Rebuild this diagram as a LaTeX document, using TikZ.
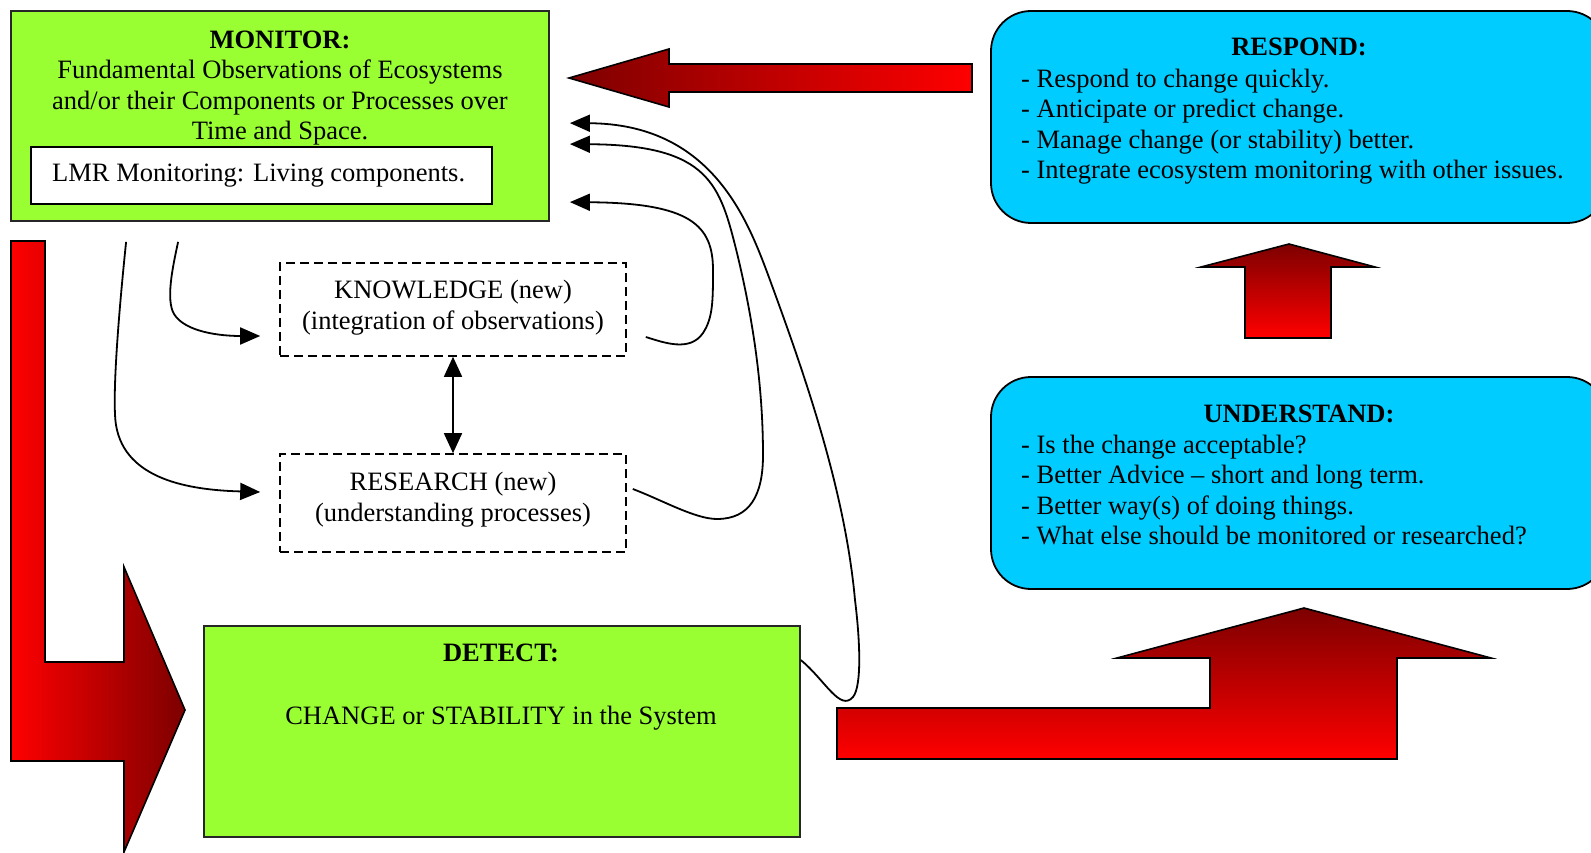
\documentclass[tikz,border=0pt]{standalone}
\usepackage{fontspec}
\setmainfont{Liberation Serif}
\usetikzlibrary{arrows.meta,calc,shadings}
\definecolor{boxgreen}{RGB}{153,255,51}
\definecolor{boxcyan}{RGB}{0,204,255}
\definecolor{arrowred}{RGB}{255,0,0}
\definecolor{arrowdark}{RGB}{125,0,0}
\tikzset{
  body/.style={font=\fontsize{26.5}{30.5}\selectfont},
  pairtext/.style={font=\fontsize{26.5}{31.5}\selectfont},
  greenbox/.style={draw=black!85, line width=1.8pt, fill=boxgreen, rectangle, inner sep=0pt},
  cyanbox/.style={draw=black, line width=1.8pt, fill=boxcyan, rounded corners=40pt, inner sep=0pt},
  dashbox/.style={draw=black, dash pattern=on 9pt off 5pt, line width=1.6pt, inner sep=0pt},
  plain/.style={inner sep=0pt},
  link/.style={line width=1.8pt, -{Triangle[length=20pt,width=17pt]}},
  twoway/.style={line width=1.6pt, {Triangle[length=20pt,width=18pt]}-{Triangle[length=20pt,width=18pt]}},
  bigarrow/.style={draw=black, line width=1.6pt, line join=miter},
}
\begin{document}
\begin{tikzpicture}[x=1pt, y=-1pt, body]
\useasboundingbox (0,0) rectangle (1591,853);

% broad shaded arrows
\draw[bigarrow, left color=arrowdark, right color=arrowred]
  (972,64) -- (669,64) -- (669,49) -- (569,78) -- (669,107) -- (669,92) -- (972,92) -- cycle;
\draw[bigarrow, left color=arrowred, right color=arrowdark]
  (11,241) -- (45,241) -- (45,662) -- (124,662) -- (124,567) -- (185,710)
  -- (124,852) -- (124,761) -- (11,761) -- cycle;
\draw[bigarrow, top color=arrowdark, bottom color=arrowred]
  (837,759) -- (837,708) -- (1210,708) -- (1210,658) -- (1117,658) -- (1304,608)
  -- (1491,658) -- (1397,658) -- (1397,759) -- cycle;
\draw[bigarrow, top color=arrowdark, bottom color=arrowred]
  (1245,338) -- (1245,267) -- (1201,267) -- (1289,244) -- (1375,267) -- (1331,267)
  -- (1331,338) -- cycle;

% MONITOR
\node[greenbox, minimum width=538pt, minimum height=210pt] (monitor) at (280,116) {};
\node[plain, anchor=north, align=center] (monitorText) at (280,26.65)
  {\strut\textbf{MONITOR:}\\Fundamental Observations of Ecosystems\\and/or their Components or Processes over\\Time and Space.};
\node[draw=black, line width=1.8pt, fill=white, minimum width=461pt, minimum height=57pt,
      inner sep=0pt] (lmr) at (261.5,175.5) {};
\node[plain, anchor=west] (lmrText) at (52,175.5) {LMR Monitoring: Living components.};

% RESPOND
\node[cyanbox, minimum width=616pt, minimum height=212pt] (respond) at (1299,117) {};
\node[plain, anchor=base] (respondTitle) at (1299,56) {\textbf{RESPOND:}};
\node[plain, anchor=north west, align=left] (respondList) at (1021,65.65)
  {\strut- Respond to change quickly.\\- Anticipate or predict change.\\- Manage change (or stability) better.\\- Integrate ecosystem monitoring with other issues.};

% UNDERSTAND
\node[cyanbox, minimum width=616pt, minimum height=212pt] (understand) at (1299,483) {};
\node[plain, anchor=base] (understandTitle) at (1299,422) {\textbf{UNDERSTAND:}};
\node[plain, anchor=north west, align=left] (understandList) at (1021,431.65)
  {\strut- Is the change acceptable?\\- Better Advice – short and long term.\\- Better way(s) of doing things.\\- What else should be monitored or researched?};

% KNOWLEDGE and RESEARCH
\node[dashbox, minimum width=346pt, minimum height=93pt] (knowledge) at (453,309.5) {};
\node[plain, pairtext, anchor=north, align=center] (knowledgeText) at (453,275.95)
  {\strut KNOWLEDGE (new)\\(integration of observations)};
\node[dashbox, minimum width=346pt, minimum height=98pt] (research) at (453,503) {};
\node[plain, pairtext, anchor=north, align=center] (researchText) at (453,467.95)
  {\strut RESEARCH (new)\\(understanding processes)};
\draw[twoway] (knowledge.south) -- (research.north);

% DETECT
\node[greenbox, minimum width=596pt, minimum height=211pt] (detect) at (502,731.5) {};
\node[plain, anchor=base] (detectTitle) at (501,661) {\textbf{DETECT:}};
\node[plain, anchor=base] (detectText) at (501,724) {CHANGE or STABILITY in the System};

% end points of the thin connectors
\coordinate (mA) at ($(monitor.south west)+(116,20)$);
\coordinate (mB) at ($(monitor.south west)+(168,20)$);
\coordinate (rIn) at ($(research.west)+(-19,-11)$);
\coordinate (kIn) at ($(knowledge.west)+(-19,26.5)$);
\coordinate (kOut) at ($(knowledge.east)+(19,27.5)$);
\coordinate (rOut) at ($(research.east)+(6,-14)$);
\coordinate (dOut) at ($(detect.north east)+(0,35)$);
\coordinate (mIn1) at ($(monitor.north east)+(20,113)$);
\coordinate (mIn2) at ($(monitor.north east)+(20,134)$);
\coordinate (mIn3) at ($(monitor.north east)+(20,192)$);

% thin connectors
\draw[link] (mA) .. controls (118,320) and (112,400) .. (116,425)
  .. controls (125,480) and (190,490) .. (rIn);
\draw[link] (mB) .. controls (172,270) and (166,300) .. (174,314)
  .. controls (185,332) and (220,336) .. (kIn);
\draw[link] (kOut) .. controls (665,343) and (690,352) .. (703,333)
  .. controls (713,318) and (713,300) .. (713,270)
  .. controls (713,225) and (690,203) .. (mIn3);
\draw[link] (rOut) .. controls (662,500) and (695,519) .. (717,519)
  .. controls (750,519) and (763,495) .. (763,455)
  .. controls (763,380) and (751,311) .. (737,253)
  .. controls (720,185) and (710,145) .. (mIn2);
\draw[link] (dOut) .. controls (825,680) and (840,712) .. (853,697)
  .. controls (862,686) and (860,640) .. (855,600)
  .. controls (845,490) and (805,375) .. (767,272)
  .. controls (746,216) and (709,124) .. (mIn1);
\end{tikzpicture}
\end{document}
